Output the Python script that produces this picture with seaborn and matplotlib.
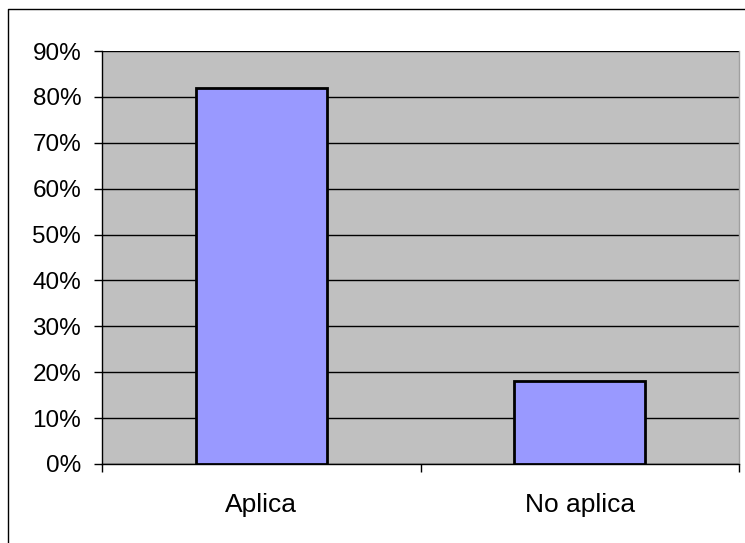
import matplotlib
matplotlib.use("Agg")
import matplotlib.pyplot as plt
import seaborn as sns
import pandas as pd
from matplotlib.lines import Line2D
from matplotlib.ticker import FixedLocator

categories = ["Aplica", "No aplica"]
values = [82, 18]
ytick_labels = ["0%", "10%", "20%", "30%", "40%", "50%", "60%", "70%", "80%", "90%"]

sns.set_theme(style="white")
plt.rcParams['font.family'] = ['Liberation Sans', 'DejaVu Sans']

df = pd.DataFrame({"cat": categories, "val": values})

fig = plt.figure(figsize=(7.45, 5.43), dpi=100)
ax = fig.add_axes([102/745, 1 - 464/543, (739-102)/745, (464-51)/543])
ax.set_facecolor("#C0C0C0")

sns.barplot(data=df, x="cat", y="val", ax=ax, color="#9999FF", saturation=1,
            width=0.41, edgecolor="black", linewidth=2, zorder=3)

ax.set_ylim(0, 90)
ax.set_xlim(-0.5, 1.5)
ax.set_yticks(range(0, 100, 10))
ax.set_yticklabels(ytick_labels)
ax.yaxis.grid(True, color="black", linewidth=1, zorder=1)
ax.set_axisbelow(True)
ax.set_xlabel("")
ax.set_ylabel("")

ax.spines["top"].set_visible(False)
ax.spines["right"].set_color("#A0A0A0")
ax.spines["right"].set_linewidth(1)
for s in ["left", "bottom"]:
    ax.spines[s].set_color("black")
    ax.spines[s].set_linewidth(1)

ax.tick_params(axis="y", which="major", left=True, length=6, width=1, color="black",
               labelsize=17.5, pad=9, labelcolor="black")
ax.tick_params(axis="x", which="major", bottom=False, labelsize=19, pad=15, labelcolor="black")
ax.xaxis.set_minor_locator(FixedLocator([-0.5, 0.5, 1.5]))
ax.tick_params(axis="x", which="minor", bottom=True, length=6, width=1, color="black")

# outer chart frame
fig.add_artist(Line2D([8/745, 8/745, 1.0], [0.0, 1 - 9/543, 1 - 9/543],
                      transform=fig.transFigure, color="black", linewidth=1))

fig.savefig("out.png", dpi=100, facecolor="white")
